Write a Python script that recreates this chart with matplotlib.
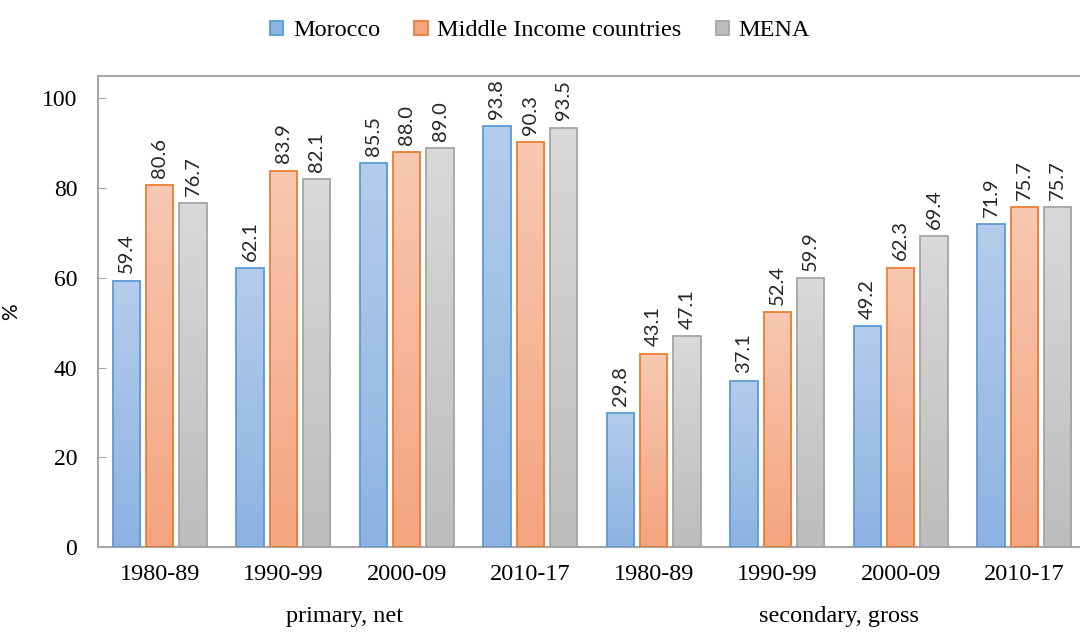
import numpy as np
import matplotlib.pyplot as plt
from matplotlib.colors import LinearSegmentedColormap

plt.rcParams['font.family'] = ['Liberation Serif', 'DejaVu Serif']

periods = ["1980-89", "1990-99", "2000-09", "2010-17",
           "1980-89", "1990-99", "2000-09", "2010-17"]
morocco = [59.4, 62.1, 85.5, 93.8, 29.8, 37.1, 49.2, 71.9]
middle_income = [80.6, 83.9, 88.0, 90.3, 43.1, 52.4, 62.3, 75.7]
mena = [76.7, 82.1, 89.0, 93.5, 47.1, 59.9, 69.4, 75.7]
series_names = ["Morocco", "Middle Income countries", "MENA"]
group_labels = ["primary, net", "secondary, gross"]

# (top colour, bottom colour, edge colour)
styles = [("#B4CCEB", "#8DB3E2", "#5B9BD5"),
          ("#F8C8B2", "#F4A47F", "#ED7D31"),
          ("#D9D9D9", "#BDBDBD", "#A5A5A5")]


def main():
    fig = plt.figure(figsize=(10.8, 6.32), dpi=100)
    ax = fig.add_axes([98 / 1080, 1 - 547 / 632, 988 / 1080, 471 / 632])

    x = np.arange(len(periods))
    width = 0.222
    step = 0.27
    handles = []
    for k, vals in enumerate([morocco, middle_income, mena]):
        top, bottom, edge = styles[k]
        cmap = LinearSegmentedColormap.from_list("g%d" % k, [bottom, top])
        pos = x + (k - 1) * step
        bars = ax.bar(pos, vals, width, facecolor="none", edgecolor=edge,
                      linewidth=1.3, zorder=3)
        for b, v in zip(bars, vals):
            x0 = b.get_x()
            grad = np.linspace(0, 1, 64).reshape(-1, 1)
            im = ax.imshow(grad, cmap=cmap, origin="lower", aspect="auto",
                           extent=(x0, x0 + width, 0, v), zorder=2)
            im.set_clip_path(b)
            ax.text(b.get_x() + width / 2, v + 1.6, "%.1f" % v, rotation=90,
                    ha="center", va="bottom", fontsize=14.5, color="#262626",
                    family=["Lato", "DejaVu Sans"])
        handles.append(plt.Rectangle((0, 0), 1, 1, facecolor=bottom,
                                     edgecolor=edge, linewidth=1.3))

    ax.set_xlim(-0.5, len(periods) - 0.5)
    ax.set_ylim(0, 105)
    ax.set_yticks(range(0, 101, 20))
    ax.set_xticks(x)
    ax.set_xticklabels(periods, fontsize=17.5)
    ax.tick_params(axis="x", length=0, pad=12)
    ax.tick_params(axis="y", direction="in", length=6, color="#A6A6A6",
                   labelsize=17, pad=15)
    for s in ax.spines.values():
        s.set_color("#A6A6A6")
        s.set_linewidth(1.5)
    ax.set_ylabel("%", fontsize=15, family=["Lato", "DejaVu Sans"])
    ax.yaxis.set_label_coords(-0.078, 0.5)

    ax.text(1.5, -15.5, group_labels[0], ha="center", va="center", fontsize=17.5)
    ax.text(5.5, -15.5, group_labels[1], ha="center", va="center", fontsize=17.5)

    fig.legend(handles, series_names, loc="center", bbox_to_anchor=(0.5, 0.951),
               ncol=3, frameon=False, fontsize=17.5, handlelength=0.55,
               handleheight=0.55, handletextpad=0.4, columnspacing=1.4)

    fig.savefig("out.png", dpi=100)


if __name__ == '__main__':
    main()
